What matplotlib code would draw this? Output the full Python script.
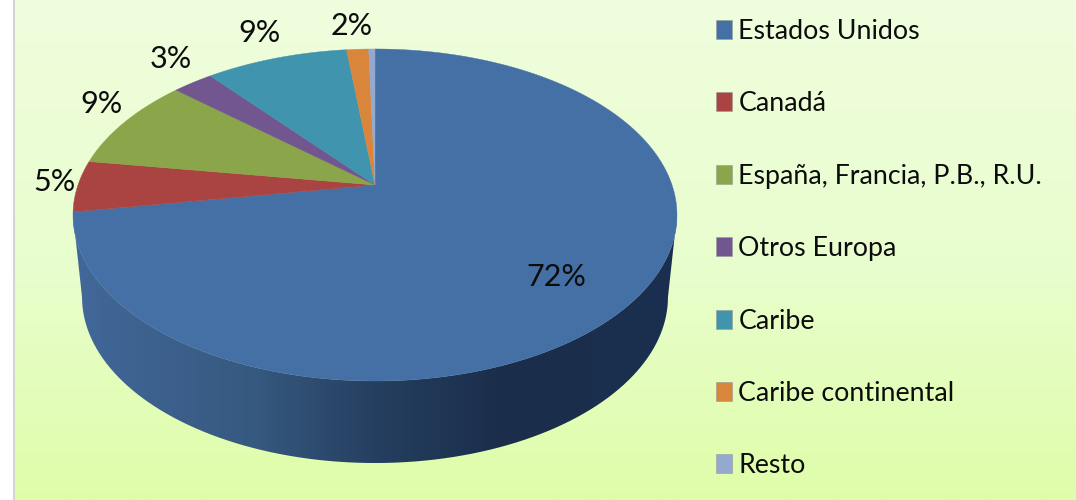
import numpy as np
import matplotlib
matplotlib.use('Agg')
import matplotlib.pyplot as plt
from matplotlib.colors import LinearSegmentedColormap
from matplotlib.patches import PathPatch, Polygon
from matplotlib.path import Path

plt.rcParams['font.family'] = ['Lato', 'DejaVu Sans']

categories = ['Estados Unidos', 'Canadá', 'España, Francia, P.B., R.U.',
              'Otros Europa', 'Caribe', 'Caribe continental', 'Resto']
shares = [72.4, 5.0, 9.1, 2.6, 9.1, 1.4, 0.4]
share_labels = ['72%', '5%', '9%', '3%', '9%', '2%', '']
colors = ['#4570a6', '#aa4443', '#8ba54b', '#71568f', '#4094ae', '#d9853b', '#93a9cf']

# apex of the pie on screen and the perspective used for the tilted disc
cx, cy = 375, 185
rx, ry, k = 297, 160.6, 0.1807
depth = 82


def project(theta):
    # theta in degrees, clockwise from the top of the pie
    t = np.radians(theta)
    u, v = np.sin(t), np.cos(t)
    d = 1 + k * v
    return cx + rx * u / d, cy - ry * v / d


fig = plt.figure(figsize=(10.76, 5.0), dpi=100)
ax = fig.add_axes([0, 0, 1, 1])
ax.set_xlim(0, 1076)
ax.set_ylim(500, 0)
ax.axis('off')

# background gradient
bg = LinearSegmentedColormap.from_list('bg', ['#effedd', '#e9fdcf', '#dffea9'])
ax.imshow(np.linspace(0, 1, 256).reshape(-1, 1), cmap=bg, aspect='auto',
          extent=(13, 1076, 500, 0), zorder=0)
ax.plot([13.5, 13.5], [0, 500], color='#d4d4d4', lw=1.5, zorder=1)

# side wall of the blue slice, from the widest point of the rim on each side
edge = np.degrees(np.arccos(-k))
th = np.linspace(edge, 360 - edge, 400)
xs, ys = project(th)
scale = 293 / 302
xb = cx + (xs - cx) * scale
yb = ys + depth
verts = np.column_stack([np.r_[xs, xb[::-1]], np.r_[ys, yb[::-1]]])
wall = PathPatch(Path(np.vstack([verts, verts[0]])), fc='none', ec='none')
ax.add_patch(wall)
wall_cmap = LinearSegmentedColormap.from_list(
    'wall', [(0, '#42689a'), (0.3, '#36597f'), (0.5, '#253f60'),
             (0.72, '#1a2d4a'), (1, '#1b3050')])
im = ax.imshow(np.linspace(0, 1, 256).reshape(1, -1), cmap=wall_cmap, aspect='auto',
               extent=(73, 677, 480, 180), zorder=2)
im.set_clip_path(wall)
ax.set_xlim(0, 1076)
ax.set_ylim(500, 0)

# top face
start = 0
for share, color in zip(shares, colors):
    end = start + share * 3.6
    th = np.linspace(start, end, 300)
    xs, ys = project(th)
    ax.add_patch(Polygon(np.column_stack([np.r_[cx, xs], np.r_[cy, ys]]),
                         closed=True, fc=color, ec=color, lw=0.3, zorder=3))
    start = end

# data labels
label_pos = [(556, 277), (54, 182), (102, 104), (171, 59), (259, 33), (352, 26)]
for text, (lx, ly) in zip(share_labels, label_pos):
    ax.text(lx, ly, text, fontsize=22, ha='center', va='center', color='#0c0c0c', zorder=4)

# legend
for i, (name, color) in enumerate(zip(categories, colors)):
    y = 29.5 + i * 72.4
    ax.add_patch(Polygon([(716, y - 9.5), (732, y - 9.5), (732, y + 9.5), (716, y + 9.5)],
                         fc=color, ec='#9a9a9a', lw=0.4, zorder=4))
    ax.text(738.5, y + 9.5, name, fontsize=19.3, ha='left', va='baseline', color='#0c0c0c', zorder=4)

plt.savefig('out.png', dpi=100)
